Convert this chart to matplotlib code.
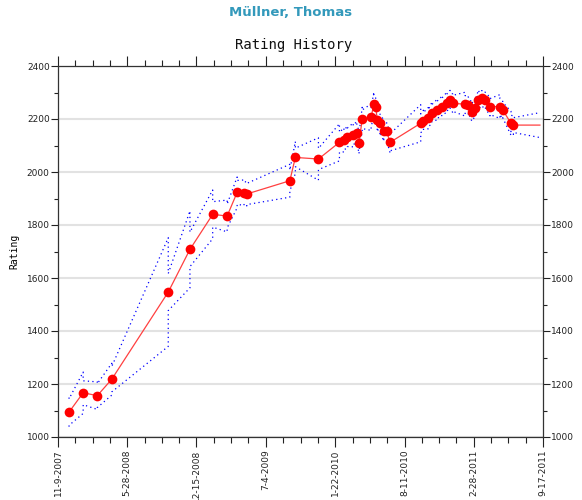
import numpy as np
import matplotlib
matplotlib.use("Agg")
import matplotlib.pyplot as plt
import matplotlib.dates as mdates
from matplotlib.ticker import FuncFormatter, MultipleLocator, FixedLocator
from datetime import datetime

# --- data ---
dates = ["2007-12-11", "2008-01-21", "2008-03-02", "2008-04-13", "2008-09-24",
         "2008-11-26", "2009-01-31", "2009-03-14", "2009-04-12", "2009-05-02",
         "2009-05-10", "2009-09-12", "2009-09-28", "2009-12-04", "2010-02-03",
         "2010-02-16", "2010-02-26", "2010-03-15", "2010-03-25", "2010-04-01",
         "2010-04-10", "2010-05-06", "2010-05-14", "2010-05-19", "2010-05-24",
         "2010-06-01", "2010-06-12", "2010-06-20", "2010-06-30", "2010-09-27",
         "2010-10-05", "2010-10-19", "2010-10-29", "2010-11-12", "2010-11-27",
         "2010-12-11", "2010-12-21", "2010-12-29", "2011-02-03", "2011-02-12",
         "2011-02-22", "2011-03-04", "2011-03-13", "2011-03-23", "2011-04-02",
         "2011-04-16", "2011-05-15", "2011-05-23", "2011-06-16", "2011-06-23",
         "2011-09-08"]
rating = [1094, 1167, 1156, 1218, 1547, 1708, 1840, 1834, 1923, 1922,
          1917, 1967, 2055, 2049, 2112, 2121, 2131, 2140, 2149, 2111,
          2199, 2207, 2257, 2247, 2196, 2184, 2156, 2153, 2112, 2184,
          2193, 2203, 2222, 2234, 2247, 2262, 2272, 2259, 2256, 2253,
          2228, 2241, 2272, 2278, 2272, 2247, 2247, 2234, 2184, 2177,
          2177]
# deviation before / after each rating update
rd_pre = [55, 78, 52, 60, 205, 145, 92, 60, 58, 48,
          45, 62, 60, 80, 70, 45, 42, 45, 42, 42,
          45, 50, 45, 40, 40, 40, 40, 38, 40, 70,
          40, 40, 40, 38, 38, 38, 36, 35, 45, 35,
          35, 35, 35, 33, 33, 35, 45, 33, 45, 35,
          47]
rd_post = [50, 45, 45, 48, 70, 65, 48, 45, 45, 42,
           40, 40, 35, 40, 38, 36, 35, 35, 34, 34,
           35, 36, 34, 33, 33, 33, 32, 32, 32, 35,
           32, 32, 32, 31, 31, 31, 30, 30, 32, 30,
           30, 30, 30, 29, 29, 30, 30, 29, 30, 28,
           47]

tick_dates = ["2007-11-09", "2008-05-28", "2008-12-15", "2009-07-04",
              "2010-01-22", "2010-08-11", "2011-02-28", "2011-09-17"]

t = [datetime.strptime(d, "%Y-%m-%d") for d in dates]
r = np.array(rating)
pre = np.array(rd_pre)
post = np.array(rd_post)

# band: two values per date (before and after update)
band_t = [d for d in t for _ in range(2)]
upper = np.ravel(np.column_stack([r + pre, r + post]))
lower = np.ravel(np.column_stack([r - pre, r - post]))

fig = plt.figure(figsize=(5.82, 5.0), dpi=100)
ax = fig.add_axes([0.0997, 0.126, 0.8333, 0.742])

ax.plot(band_t, upper, color="#0000ff", lw=0.9, ls=(0, (1.0, 2.6)), zorder=2)
ax.plot(band_t, lower, color="#0000ff", lw=0.9, ls=(0, (1.0, 2.6)), zorder=2)
ax.plot(t, r, color="#ff4040", lw=0.9, zorder=3)
ax.plot(t[:-1], r[:-1], "o", color="#ff0000", ms=7, mec="none", zorder=4)

tk = [mdates.date2num(datetime.strptime(d, "%Y-%m-%d")) for d in tick_dates]
ax.set_xlim(tk[0], tk[-1])
ax.set_ylim(1000, 2400)
ax.xaxis.set_major_locator(FixedLocator(tk))
minors = []
for a, b in zip(tk[:-1], tk[1:]):
    minors += list(np.linspace(a, b, 5)[1:-1])
ax.xaxis.set_minor_locator(FixedLocator(minors))

def fmt_date(x, pos):
    d = mdates.num2date(x)
    return f"{d.month}-{d.day}-{d.year}"

ax.xaxis.set_major_formatter(FuncFormatter(fmt_date))
ax.yaxis.set_major_locator(MultipleLocator(200))
ax.yaxis.set_minor_locator(MultipleLocator(100))

ax.grid(axis="y", which="major", color="#e2e2e2", lw=1.5, zorder=0)
ax.set_axisbelow(True)

ax.tick_params(axis="both", which="both", direction="out", labelsize=6.5,
               colors="#222222", width=0.8)
ax.tick_params(axis="x", which="major", length=7, top=True, pad=2)
ax.tick_params(axis="x", which="minor", length=4, top=True)
ax.tick_params(axis="y", which="major", length=5, right=True, labelright=True, pad=1)
ax.tick_params(axis="y", which="minor", length=3, right=True)
for lbl in ax.get_xticklabels():
    lbl.set_rotation(90)
for s in ax.spines.values():
    s.set_color("#333333")
    s.set_linewidth(0.9)

ax.set_ylabel("Rating", family="DejaVu Sans Mono", fontsize=7, labelpad=5)

fig.text(0.5, 0.974, "Müllner, Thomas", ha="center", va="center",
         fontsize=9.5, fontweight="bold", color="#3399bb")
fig.text(0.505, 0.91, "Rating History", ha="center", va="center",
         family="DejaVu Sans Mono", fontsize=10, color="#111111")

fig.savefig("out.png", dpi=100)
